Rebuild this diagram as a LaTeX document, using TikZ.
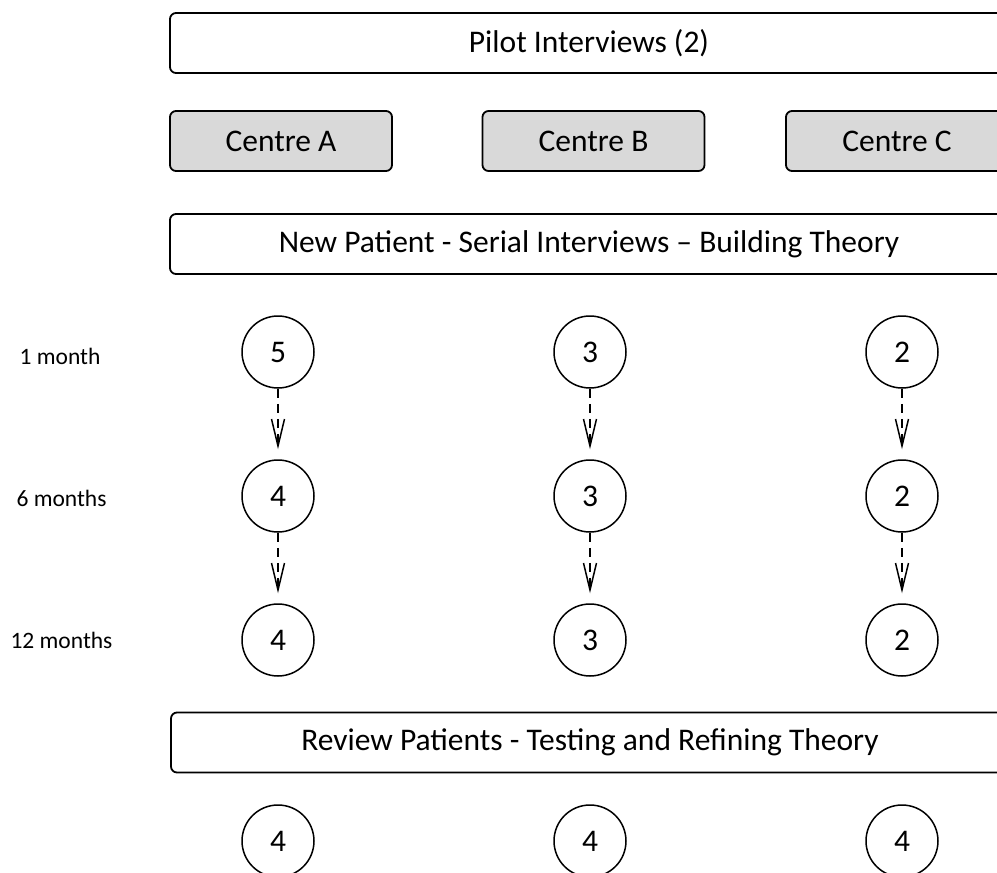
\documentclass[tikz,border=0pt]{standalone}
\usepackage{fontspec}
\setmainfont{Carlito}
\usetikzlibrary{arrows.meta}
\begin{document}
\begin{tikzpicture}[x=1pt,y=-1pt,
  banner/.style={draw=black,line width=1.8pt,rounded corners=6pt,fill=white,
    minimum width=838pt,minimum height=60pt,inner sep=0pt,font=\fontsize{31.5}{36}\selectfont},
  centrebox/.style={draw=black,line width=1.8pt,rounded corners=6pt,fill=boxgray,
    minimum width=222pt,minimum height=60pt,inner sep=0pt,font=\fontsize{31.5}{36}\selectfont},
  count/.style={circle,draw=black,line width=1.5pt,minimum size=72pt,inner sep=0pt,
    font=\fontsize{31.5}{36}\selectfont},
  timelabel/.style={font=\fontsize{23.5}{28}\selectfont,inner sep=0pt},
  follow/.style={line width=1.8pt,dash pattern=on 9pt off 6pt,shorten >=10pt,
    -{Straight Barb[length=27pt,width=13pt,line width=1.5pt]}}]
\definecolor{boxgray}{HTML}{D9D9D9}
\useasboundingbox (0,0) rectangle (997,873);
\clip (0,0) rectangle (997,873);

% stage banners
\node[banner] (pilot) at (589,43) {Pilot Interviews (2)};
\node[banner] (newpt) at (589,244) {New Patient - Serial Interviews – Building Theory};
\node[banner] (review) at (590,742.5) {Review Patients - Testing and Refining Theory};

% study centres
\node[centrebox] (cA) at (281,141) {Centre A};
\node[centrebox] (cB) at (593.5,141) {Centre B};
\node[centrebox] (cC) at (897,141) {Centre C};

% time point labels
\node[timelabel] (t1) at (60,356) {1 month};
\node[timelabel] (t6) at (61.5,498) {6 months};
\node[timelabel] (t12) at (61.5,640) {12 months};

% serial interview counts per centre
\node[count] (a1) at (278,352) {5};
\node[count] (a2) at (278,496) {4};
\node[count] (a3) at (278,640) {4};
\node[count] (b1) at (590,352) {3};
\node[count] (b2) at (590,496) {3};
\node[count] (b3) at (590,640) {3};
\node[count] (c1) at (902,352) {2};
\node[count] (c2) at (902,496) {2};
\node[count] (c3) at (902,640) {2};

% review patient counts
\node[count] (ra) at (278,841) {4};
\node[count] (rb) at (590,841) {4};
\node[count] (rc) at (902,841) {4};

% follow-up arrows
\foreach \col in {a,b,c}{
  \draw[follow] (\col1) -- (\col2);
  \draw[follow] (\col2) -- (\col3);
}
\end{tikzpicture}
\end{document}
